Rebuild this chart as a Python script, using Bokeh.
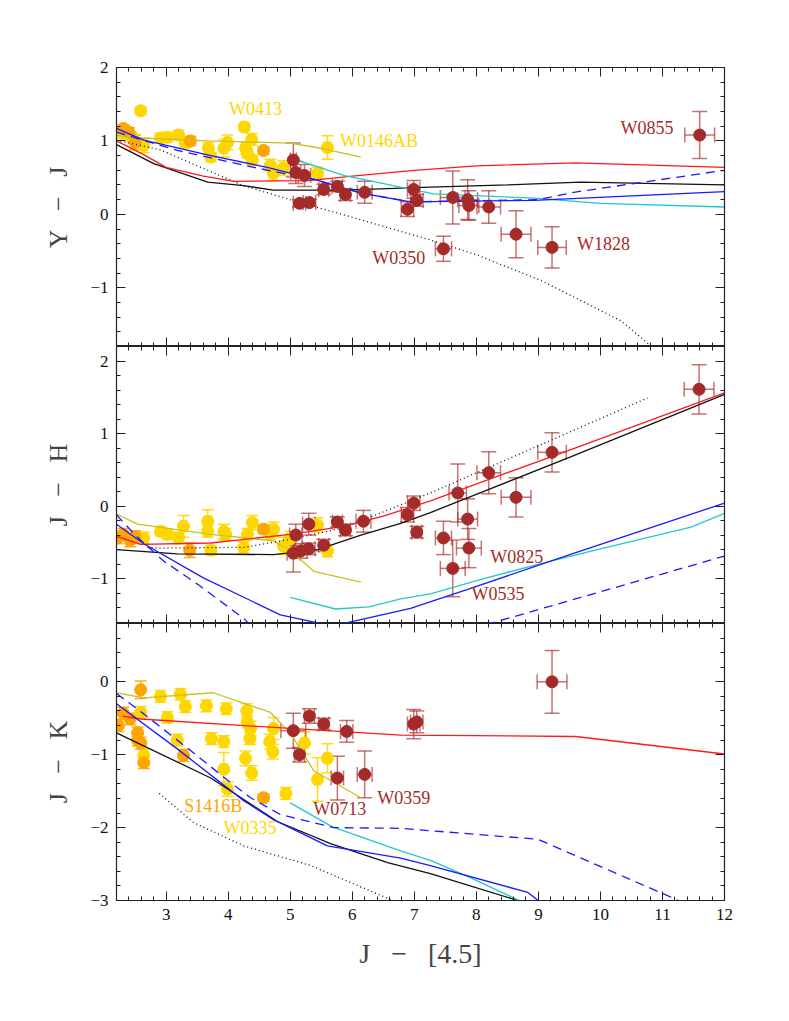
from bokeh.plotting import figure
from bokeh.models import (ColumnDataSource, Range1d, LinearAxis, FixedTicker,
                          Whisker, TeeHead, CustomJSTickFormatter)
from bokeh.layouts import column
from bokeh.core.properties import value
from bokeh.embed import file_html
from bokeh.resources import INLINE

FONT = "Liberation Serif"

# ---------------- data ----------------
# Top panel: Y - J
yj_brown_x = [11.60, 5.05, 5.09, 5.15, 5.31, 5.23, 5.54, 5.76, 5.89, 6.20, 6.99, 7.04, 6.89, 7.47, 7.62, 7.86, 7.88, 8.20, 8.64, 9.22]
yj_brown_y = [1.08, 0.74, 0.57, 0.15, 0.16, 0.53, 0.34, 0.38, 0.27, 0.30, 0.34, 0.19, 0.07, -0.47, 0.23, 0.20, 0.12, 0.10, -0.27, -0.45]
yj_brown_xe = [0.24, 0.05, 0.08, 0.10, 0.10, 0.10, 0.08, 0.08, 0.08, 0.12, 0.10, 0.10, 0.10, 0.13, 0.20, 0.16, 0.16, 0.19, 0.24, 0.23]
yj_brown_ye = [0.32, 0.23, 0.15, 0.05, 0.05, 0.15, 0.07, 0.07, 0.08, 0.15, 0.12, 0.08, 0.10, 0.17, 0.36, 0.27, 0.20, 0.22, 0.32, 0.28]

yj_gold_x = [2.59, 4.26, 4.38, 5.60, 2.64, 2.91, 3.02, 3.20, 3.31, 3.68, 3.72, 3.93, 3.99, 4.28, 4.31, 4.39, 4.68, 4.73, 4.89, 5.44, 2.30, 2.45]
yj_gold_y = [1.41, 1.19, 1.02, 0.91, 0.94, 1.04, 1.05, 1.08, 0.97, 0.90, 0.78, 0.90, 0.98, 0.90, 0.83, 0.74, 0.67, 0.56, 0.63, 0.56, 1.10, 1.05]
yj_gold_xe = [0.04, 0.05, 0.05, 0.05, 0.05, 0.05, 0.05, 0.05, 0.05, 0.05, 0.05, 0.05, 0.05, 0.05, 0.05, 0.05, 0.05, 0.05, 0.05, 0.05, 0.05, 0.05]
yj_gold_ye = [0.05, 0.05, 0.08, 0.16, 0.10, 0.06, 0.06, 0.06, 0.06, 0.08, 0.06, 0.12, 0.10, 0.08, 0.06, 0.06, 0.08, 0.10, 0.10, 0.08, 0.06, 0.06]

yj_orange_x = [2.31, 2.40, 2.50, 3.39, 4.57]
yj_orange_y = [1.17, 1.12, 0.98, 1.00, 0.87]
yj_orange_xe = [0.04, 0.04, 0.04, 0.04, 0.04]
yj_orange_ye = [0.05, 0.06, 0.10, 0.06, 0.05]

yj_red_x = [2.2, 2.6, 3.0, 3.6, 4.1, 5.3, 6.0, 7.0, 8.0, 9.6, 12.0]
yj_red_y = [1.00, 0.83, 0.64, 0.52, 0.45, 0.46, 0.52, 0.60, 0.66, 0.70, 0.64]
yj_black_x = [2.2, 2.8, 3.67, 4.25, 4.73, 5.86, 7.26, 8.5, 9.68, 12.0]
yj_black_y = [0.95, 0.69, 0.44, 0.39, 0.33, 0.33, 0.37, 0.40, 0.44, 0.40]
yj_blue_x = [2.2, 2.64, 3.72, 4.63, 5.38, 6.14, 6.94, 8.93, 12.0]
yj_blue_y = [1.17, 1.01, 0.80, 0.64, 0.48, 0.29, 0.17, 0.19, 0.31]
yj_bdash_x = [2.2, 3.18, 4.47, 5.4, 6.14, 6.94, 8.99, 9.57, 10.54, 12.0]
yj_bdash_y = [1.12, 0.87, 0.63, 0.47, 0.29, 0.17, 0.20, 0.30, 0.42, 0.60]
yj_cyan_x = [5.04, 5.86, 6.78, 7.31, 8.93, 10.0, 12.0]
yj_cyan_y = [0.76, 0.53, 0.37, 0.28, 0.22, 0.15, 0.10]
yj_olive_x = [2.2, 2.6, 3.67, 5.0, 5.5, 6.14]
yj_olive_y = [1.08, 1.04, 1.00, 0.97, 0.90, 0.78]
yj_dot_x = [2.2, 2.9, 4.25, 5.0, 6.0, 7.26, 8.0, 9.04, 10.33, 10.81]
yj_dot_y = [1.01, 0.88, 0.39, 0.20, -0.04, -0.35, -0.55, -0.90, -1.45, -1.79]

# Middle panel: J - H
jh_brown_x = [11.59, 9.22, 8.20, 8.64, 7.70, 7.86, 7.88, 7.47, 7.62, 6.99, 6.89, 7.04, 6.18, 5.89, 5.76, 5.54, 5.30, 5.30, 5.09, 5.05, 5.17]
jh_brown_y = [1.61, 0.74, 0.46, 0.12, 0.18, -0.18, -0.58, -0.44, -0.86, 0.04, -0.12, -0.36, -0.21, -0.33, -0.22, -0.54, -0.25, -0.59, -0.40, -0.65, -0.62]
jh_brown_xe = [0.24, 0.23, 0.19, 0.24, 0.14, 0.16, 0.20, 0.13, 0.20, 0.10, 0.10, 0.08, 0.12, 0.08, 0.08, 0.08, 0.10, 0.10, 0.10, 0.10, 0.10]
jh_brown_ye = [0.34, 0.27, 0.29, 0.27, 0.40, 0.28, 0.27, 0.23, 0.39, 0.10, 0.10, 0.08, 0.15, 0.08, 0.07, 0.08, 0.15, 0.08, 0.15, 0.26, 0.10]

jh_gold_x = [2.64, 2.91, 3.02, 3.20, 3.28, 3.67, 3.67, 3.72, 3.93, 3.96, 4.25, 4.31, 4.39, 4.73, 4.89, 5.44, 5.60, 4.68, 5.00]
jh_gold_y = [-0.44, -0.35, -0.39, -0.44, -0.28, -0.21, -0.35, -0.61, -0.35, -0.39, -0.57, -0.39, -0.23, -0.32, -0.55, -0.26, -0.62, -0.38, -0.45]
jh_gold_xe = [0.05] * 19
jh_gold_ye = [0.08, 0.06, 0.06, 0.08, 0.15, 0.16, 0.08, 0.06, 0.10, 0.08, 0.08, 0.08, 0.10, 0.10, 0.12, 0.10, 0.08, 0.08, 0.10]

jh_orange_x = [2.22, 2.31, 2.42, 2.50, 3.38, 4.57]
jh_orange_y = [-0.44, -0.39, -0.48, -0.42, -0.61, -0.32]
jh_orange_xe = [0.04] * 6
jh_orange_ye = [0.08, 0.08, 0.08, 0.08, 0.10, 0.06]

jh_red_x = [2.2, 2.59, 3.72, 5.0, 5.86, 6.5, 7.26, 8.5, 9.47, 12.0]
jh_red_y = [-0.42, -0.53, -0.51, -0.39, -0.28, -0.14, 0.07, 0.46, 0.76, 1.56]
jh_black_x = [2.2, 3.18, 4.73, 5.44, 6.14, 6.78, 7.26, 9.5, 12.0]
jh_black_y = [-0.60, -0.66, -0.67, -0.60, -0.40, -0.24, -0.09, 0.67, 1.54]
jh_dot_x = [2.7, 2.86, 4.25, 5.0, 5.86, 7.26, 10.76]
jh_dot_y = [-0.57, -0.58, -0.57, -0.46, -0.30, 0.18, 1.49]
jh_olive_x = [2.2, 2.54, 3.72, 4.73, 5.0, 5.38, 6.14]
jh_olive_y = [-0.11, -0.25, -0.39, -0.48, -0.61, -0.90, -1.05]
jh_blue_x = [2.2, 2.64, 3.6, 4.84, 5.54, 5.7, 5.81, 6.94, 7.86, 9.47, 12.0]
jh_blue_y = [-0.25, -0.52, -0.99, -1.50, -1.63, -1.66, -1.63, -1.41, -1.15, -0.68, 0.04]
jh_bdash_x = [2.2, 2.5, 2.96, 3.51, 4.25, 4.6, 7.0, 8.18, 12.0]
jh_bdash_y = [-0.12, -0.40, -0.76, -1.08, -1.55, -1.85, -1.95, -1.63, -0.69]
jh_cyan_x = [5.0, 5.73, 6.27, 6.78, 7.26, 8.12, 9.2, 10.0, 11.46, 12.0]
jh_cyan_y = [-1.26, -1.42, -1.39, -1.28, -1.21, -1.00, -0.76, -0.59, -0.29, -0.10]

# Bottom panel: J - K
jk_brown_x = [9.22, 6.99, 7.04, 5.05, 5.31, 5.54, 5.91, 5.15, 5.76, 6.20]
jk_brown_y = [0.00, -0.58, -0.55, -0.67, -0.47, -0.58, -0.68, -1.00, -1.32, -1.27]
jk_brown_xe = [0.24, 0.10, 0.10, 0.20, 0.08, 0.08, 0.10, 0.08, 0.10, 0.12]
jk_brown_ye = [0.43, 0.20, 0.15, 0.24, 0.10, 0.08, 0.15, 0.10, 0.30, 0.32]

jk_gold_x = [2.91, 3.23, 3.31, 3.65, 3.97, 4.30, 4.31, 4.36, 4.35, 4.28, 4.38, 3.93, 3.93, 3.73, 3.18, 3.02, 2.64, 2.59, 3.99, 4.67, 4.72, 4.73, 4.93, 5.23, 5.44, 5.60]
jk_gold_y = [-0.20, -0.17, -0.34, -0.33, -0.37, -0.40, -0.55, -0.64, -0.78, -1.05, -1.25, -1.20, -0.82, -0.78, -0.80, -0.49, -1.01, -0.42, -1.47, -0.82, -0.96, -0.64, -1.53, -0.84, -1.34, -1.05]
jk_gold_xe = [0.05] * 26
jk_gold_ye = [0.08, 0.08, 0.08, 0.08, 0.08, 0.10, 0.08, 0.10, 0.08, 0.10, 0.10, 0.23, 0.08, 0.08, 0.08, 0.08, 0.08, 0.08, 0.10, 0.10, 0.10, 0.15, 0.08, 0.15, 0.30, 0.20]

jk_orange_x = [2.59, 2.23, 2.31, 2.42, 2.54, 2.59, 2.64, 2.54, 3.28, 4.57]
jk_orange_y = [-0.11, -0.60, -0.43, -0.51, -0.70, -0.84, -1.11, -0.80, -1.01, -1.59]
jk_orange_xe = [0.04] * 10
jk_orange_ye = [0.12, 0.08, 0.08, 0.08, 0.08, 0.08, 0.08, 0.08, 0.08, 0.05]

jk_red_x = [2.3, 2.59, 5.0, 6.78, 9.6, 12.0]
jk_red_y = [-0.47, -0.51, -0.64, -0.73, -0.75, -0.99]
jk_olive_x = [2.2, 2.64, 3.76, 4.68, 5.0, 5.38, 6.14]
jk_olive_y = [-0.15, -0.22, -0.15, -0.42, -0.70, -1.22, -1.59]
jk_black_x = [2.2, 3.72, 4.8, 5.65, 6.57, 7.26, 8.67]
jk_black_y = [-0.70, -1.32, -1.92, -2.22, -2.48, -2.63, -3.00]
jk_blue_x = [2.2, 3.18, 4.25, 4.73, 5.6, 6.78, 7.26, 8.83, 9.3]
jk_blue_y = [-0.30, -0.92, -1.63, -1.89, -2.25, -2.42, -2.52, -2.89, -3.20]
jk_bdash_x = [2.2, 2.64, 3.39, 3.99, 4.36, 4.84, 5.7, 6.78, 8.99, 11.18, 11.5]
jk_bdash_y = [-0.16, -0.44, -0.94, -1.35, -1.59, -1.82, -2.00, -2.01, -2.16, -2.97, -3.10]
jk_cyan_x = [5.0, 5.68, 6.78, 7.26, 7.86, 8.69]
jk_cyan_y = [-1.66, -1.99, -2.32, -2.45, -2.67, -3.00]
jk_dot_x = [2.89, 3.44, 4.25, 5.33, 6.57, 6.65]
jk_dot_y = [-1.53, -1.93, -2.25, -2.52, -2.97, -3.00]

# Object labels
yj_labels = ["W0413", "W0146AB", "W0855", "W1828", "W0350"]
yj_label_x = [4.44, 6.43, 10.75, 10.05, 6.75]
yj_label_y = [1.43, 1.00, 1.17, -0.41, -0.60]
yj_label_c = ["gold", "gold", "brown", "brown", "brown"]
jh_labels = ["W0825", "W0535"]
jh_label_x = [8.65, 8.35]
jh_label_y = [-0.70, -1.21]
jh_label_c = ["brown", "brown"]
jk_labels = ["S1416B", "W0335", "W0713", "W0359"]
jk_label_x = [3.76, 4.35, 5.80, 6.83]
jk_label_y = [-1.70, -2.00, -1.74, -1.60]
jk_label_c = ["orange", "gold", "brown", "brown"]

x_major = [3, 4, 5, 6, 7, 8, 9, 10, 11, 12]
x_label = "J \u2002\u2212\u2002 [4.5]"

# ---------------- styling ----------------
COL = {"gold": "#FFD700", "orange": "#FFA500", "brown": "#A52A2A"}
C_RED, C_BLACK, C_BLUE, C_CYAN, C_OLIVE = "#FF1A1A", "#111111", "#1A1AFF", "#22C8CC", "#C8C21E"

x_range = Range1d(2.2, 12.0)
x_minor = [round(2.2 + 0.2 * i, 1) for i in range(50)]


def minor_list(lo, hi):
    n = int(round((hi - lo) / 0.2))
    return [round(lo + 0.2 * i, 1) for i in range(n + 1)]


def add_axis(p, place, ticker, labels, overrides=None):
    ax = LinearAxis(ticker=ticker)
    ax.major_tick_in = 9
    ax.major_tick_out = 0
    ax.minor_tick_in = 4
    ax.minor_tick_out = 0
    ax.axis_line_color = "#222222"
    ax.major_tick_line_color = "#222222"
    ax.minor_tick_line_color = "#222222"
    ax.axis_line_width = 1.2
    if labels:
        ax.major_label_text_font = FONT
        ax.major_label_text_font_size = "17px"
        ax.major_label_text_color = "#111111"
        ax.major_label_standoff = 8
        if overrides:
            ax.major_label_overrides = overrides
    else:
        ax.formatter = CustomJSTickFormatter(code="return '';")
        ax.major_label_text_font_size = "1px"
        ax.major_label_standoff = 0
    p.add_layout(ax, place)
    return ax


def make_panel(ylo, yhi, ymajor, ylabel, fh, top_border, bottom_border, show_x):
    p = figure(x_range=x_range, y_range=Range1d(ylo, yhi),
               frame_width=608, frame_height=fh,
               x_axis_location=None, y_axis_location=None,
               output_backend="svg", toolbar_location=None,
               min_border_left=116, min_border_right=30,
               min_border_top=top_border, min_border_bottom=bottom_border)
    p.grid.visible = False
    p.outline_line_color = "#222222"
    p.background_fill_color = "white"
    p.border_fill_color = "white"
    yt = FixedTicker(ticks=ymajor, minor_ticks=minor_list(ylo, yhi))
    xt = FixedTicker(ticks=x_major, minor_ticks=x_minor)
    overrides = {v: ("\u2212" + str(abs(v))) for v in ymajor if v < 0}
    ly = add_axis(p, "left", yt, True, overrides)
    ly.axis_label = ylabel
    ly.axis_label_text_font = FONT
    ly.axis_label_text_font_size = "26px"
    ly.axis_label_text_font_style = "normal"
    ly.axis_label_standoff = 14
    add_axis(p, "right", yt, False)
    add_axis(p, "above", xt, False)
    bx = add_axis(p, "below", xt, show_x)
    if show_x:
        bx.axis_label = x_label
        bx.axis_label_text_font = FONT
        bx.axis_label_text_font_size = "28px"
        bx.axis_label_text_font_style = "normal"
        bx.axis_label_standoff = 15
    return p


def errbars(p, xs, ys, xe, ye, color, alpha, head):
    src = ColumnDataSource(dict(
        x=xs, y=ys,
        xl=[a - b for a, b in zip(xs, xe)], xu=[a + b for a, b in zip(xs, xe)],
        yl=[a - b for a, b in zip(ys, ye)], yu=[a + b for a, b in zip(ys, ye)]))
    for dim, base, lo, hi in (("height", "x", "yl", "yu"), ("width", "y", "xl", "xu")):
        w = Whisker(source=src, base=base, lower=lo, upper=hi, dimension=dim,
                    line_color=color, line_alpha=alpha, line_width=1.5,
                    upper_head=TeeHead(size=head, line_color=color, line_alpha=alpha, line_width=1.5),
                    lower_head=TeeHead(size=head, line_color=color, line_alpha=alpha, line_width=1.5))
        p.add_layout(w)


def points(p, xs, ys, xe, ye, cname, head):
    alpha = 0.65 if cname == "brown" else 0.9
    errbars(p, xs, ys, xe, ye, COL[cname], alpha, head)
    p.scatter(xs, ys, size=12, color=COL[cname], line_color=COL[cname])


def lines(p, specs):
    for xs, ys, color, dash in specs:
        p.line(xs, ys, line_color=color, line_width=1.3, line_dash=dash)


def labels(p, txt, xs, ys, cs):
    src = ColumnDataSource(dict(x=xs, y=ys, t=txt, c=[COL[c] for c in cs]))
    p.text("x", "y", text="t", source=src, text_color="c",
           text_font=value(FONT), text_font_size="18px",
           text_align="center", text_baseline="middle")


# ---------------- panels ----------------
p1 = make_panel(-1.8, 2.0, [-1, 0, 1, 2], "Y \u2002\u2212\u2002 J", 279, 67, 0, False)
points(p1, yj_gold_x, yj_gold_y, yj_gold_xe, yj_gold_ye, "gold", 12)
points(p1, yj_orange_x, yj_orange_y, yj_orange_xe, yj_orange_ye, "orange", 12)
lines(p1, [(yj_olive_x, yj_olive_y, C_OLIVE, "solid"),
           (yj_dot_x, yj_dot_y, C_BLACK, "1 3"),
           (yj_black_x, yj_black_y, C_BLACK, "solid"),
           (yj_red_x, yj_red_y, C_RED, "solid"),
           (yj_cyan_x, yj_cyan_y, C_CYAN, "solid"),
           (yj_bdash_x, yj_bdash_y, C_BLUE, "9 6"),
           (yj_blue_x, yj_blue_y, C_BLUE, "solid")])
points(p1, yj_brown_x, yj_brown_y, yj_brown_xe, yj_brown_ye, "brown", 15)
labels(p1, yj_labels, yj_label_x, yj_label_y, yj_label_c)

p2 = make_panel(-1.62, 2.2, [-1, 0, 1, 2], "J \u2002\u2212\u2002 H", 277, 0, 0, False)
points(p2, jh_gold_x, jh_gold_y, jh_gold_xe, jh_gold_ye, "gold", 12)
points(p2, jh_orange_x, jh_orange_y, jh_orange_xe, jh_orange_ye, "orange", 12)
lines(p2, [(jh_olive_x, jh_olive_y, C_OLIVE, "solid"),
           (jh_dot_x, jh_dot_y, C_BLACK, "1 3"),
           (jh_black_x, jh_black_y, C_BLACK, "solid"),
           (jh_red_x, jh_red_y, C_RED, "solid"),
           (jh_cyan_x, jh_cyan_y, C_CYAN, "solid"),
           (jh_bdash_x, jh_bdash_y, C_BLUE, "9 6"),
           (jh_blue_x, jh_blue_y, C_BLUE, "solid")])
points(p2, jh_brown_x, jh_brown_y, jh_brown_xe, jh_brown_ye, "brown", 15)
labels(p2, jh_labels, jh_label_x, jh_label_y, jh_label_c)

p3 = make_panel(-3.0, 0.8, [-3, -2, -1, 0], "J \u2002\u2212\u2002 K", 277, 0, 95, True)
points(p3, jk_gold_x, jk_gold_y, jk_gold_xe, jk_gold_ye, "gold", 12)
points(p3, jk_orange_x, jk_orange_y, jk_orange_xe, jk_orange_ye, "orange", 12)
lines(p3, [(jk_olive_x, jk_olive_y, C_OLIVE, "solid"),
           (jk_dot_x, jk_dot_y, C_BLACK, "1 3"),
           (jk_black_x, jk_black_y, C_BLACK, "solid"),
           (jk_red_x, jk_red_y, C_RED, "solid"),
           (jk_cyan_x, jk_cyan_y, C_CYAN, "solid"),
           (jk_bdash_x, jk_bdash_y, C_BLUE, "9 6"),
           (jk_blue_x, jk_blue_y, C_BLUE, "solid")])
points(p3, jk_brown_x, jk_brown_y, jk_brown_xe, jk_brown_ye, "brown", 15)
labels(p3, jk_labels, jk_label_x, jk_label_y, jk_label_c)

layout = column(p1, p2, p3, spacing=0)
open("out.html", "w").write(file_html(layout, INLINE))
